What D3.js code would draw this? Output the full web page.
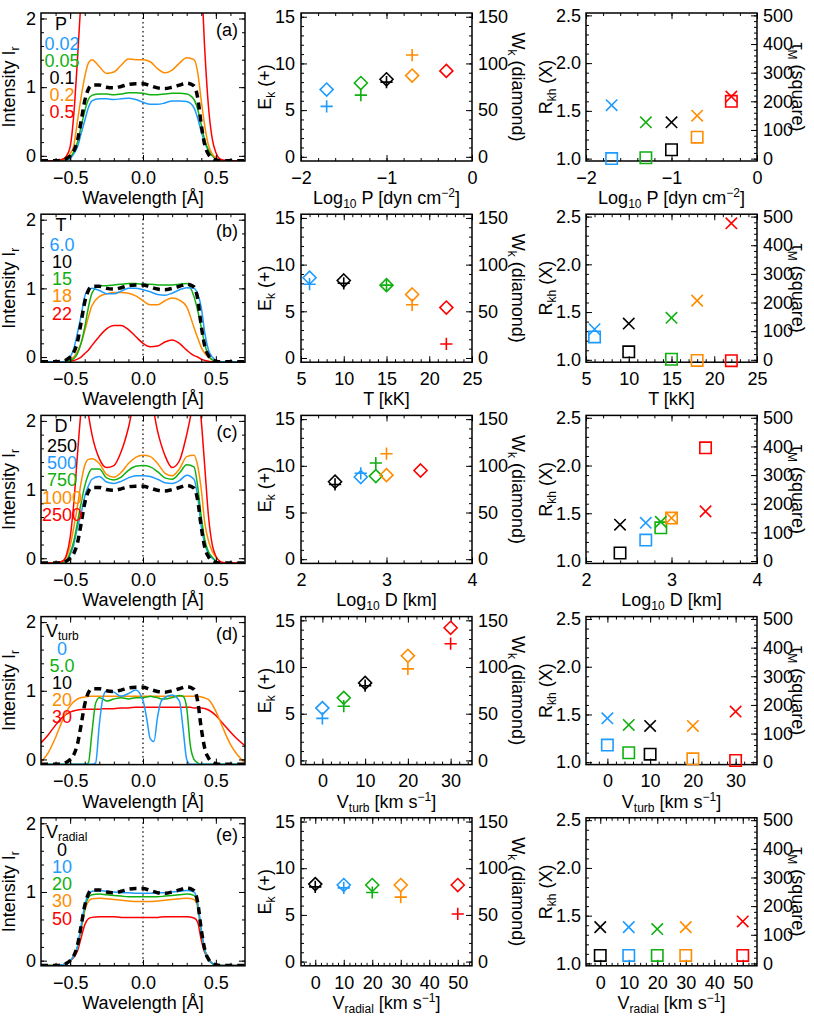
<!DOCTYPE html>
<html>
<head>
<meta charset="utf-8">
<script src="https://cdnjs.cloudflare.com/ajax/libs/d3/7.8.5/d3.min.js"></script>
<style>
body { margin: 0; background: #fff; }
text { font-family: "Liberation Sans", Arial, Helvetica, sans-serif; fill: #000; }
</style>
</head>
<body>
<script>
// colours used by the figure
var blue = "#1e9bff", green = "#10b010", orange = "#ff8c00", red = "#ff0000", black = "#000000";

// wavelength grids [A]
var waveGrid = [-0.7,-0.6,-0.55,-0.525,-0.5,-0.475,-0.45,-0.425,-0.4,-0.375,-0.35,
    -0.3,-0.25,-0.2,-0.15,-0.1,-0.05,0,0.05,0.1,0.15,0.2,0.25,0.3,
    0.35,0.375,0.4,0.425,0.45,0.475,0.5,0.525,0.55,0.6,0.7];
var waveGridD = [-0.7,-0.65,-0.6,-0.55,-0.5,-0.45,-0.4,-0.375,-0.35,-0.325,-0.3,-0.275,-0.25,
    -0.2,-0.15,-0.1,-0.05,0,0.025,0.05,0.075,0.1,0.125,0.15,0.2,0.25,0.275,0.3,0.325,
    0.35,0.375,0.4,0.45,0.5,0.55,0.6,0.65,0.7];

// reference model (black dashed), on waveGrid
var refProfile = [-0.07,-0.07,-0.06,-0.04,0.0,0.07,0.22,0.5,0.8,0.97,1.03,
    1.03,1.0,0.99,1.01,1.04,1.05,1.05,1.02,0.99,0.98,1.0,1.03,1.06,
    1.02,0.85,0.45,0.15,0.02,-0.04,-0.06,-0.07,-0.07,-0.07,-0.07];

// (a) pressure
var profP002 = [-0.07,-0.07,-0.07,-0.06,-0.04,0.03,0.13,0.32,0.51,0.7,0.8,
    0.83,0.83,0.82,0.83,0.84,0.82,0.78,0.75,0.75,0.77,0.8,0.8,0.79,
    0.7,0.55,0.35,0.18,0.08,0.01,-0.04,-0.06,-0.07,-0.07,-0.07];
var profP005 = [-0.07,-0.07,-0.06,-0.05,-0.02,0.06,0.2,0.42,0.65,0.82,0.88,
    0.9,0.9,0.89,0.9,0.92,0.92,0.91,0.89,0.89,0.9,0.91,0.91,0.9,
    0.82,0.68,0.45,0.22,0.08,0.0,-0.04,-0.06,-0.07,-0.07,-0.07];
var profP02 = [-0.07,-0.07,-0.05,-0.02,0.03,0.15,0.5,0.85,1.15,1.35,1.4,
    1.3,1.2,1.22,1.32,1.41,1.4,1.4,1.37,1.27,1.21,1.25,1.35,1.43,
    1.4,1.22,0.8,0.42,0.15,0.03,-0.03,-0.06,-0.07,-0.07,-0.07];
var profP05 = [-0.07,-0.07,-0.05,0.0,0.13,0.6,1.4,2.3,3.2,3.6,3.8,
    3.9,3.9,3.9,3.9,3.9,3.9,3.9,3.9,3.9,3.9,3.9,3.9,3.9,
    3.6,3.2,2.6,1.5,0.7,0.25,0.05,-0.04,-0.06,-0.07,-0.07];

// (b) temperature
var profT6 = [-0.07,-0.07,-0.07,-0.05,0.0,0.12,0.35,0.6,0.88,0.98,1.0,
    0.97,0.92,0.92,0.96,1.0,1.0,0.98,0.95,0.91,0.9,0.93,0.98,1.01,
    1.0,0.92,0.72,0.34,0.1,0.0,-0.05,-0.07,-0.07,-0.07,-0.07];
var profT15 = [-0.07,-0.07,-0.07,-0.07,-0.05,-0.02,0.05,0.2,0.43,0.72,0.93,
    1.04,1.04,1.05,1.06,1.07,1.07,1.06,1.06,1.05,1.05,1.05,1.06,1.07,
    0.88,0.68,0.43,0.18,0.02,-0.04,-0.06,-0.07,-0.07,-0.07,-0.07];
var profT18 = [-0.07,-0.07,-0.07,-0.06,-0.04,0.0,0.08,0.2,0.38,0.58,0.75,
    0.88,0.92,0.94,0.94,0.93,0.89,0.82,0.76,0.76,0.82,0.86,0.83,0.73,
    0.43,0.28,0.14,0.05,0.0,-0.04,-0.06,-0.07,-0.07,-0.07,-0.07];
var profT22 = [-0.07,-0.07,-0.07,-0.07,-0.06,-0.05,-0.03,0.0,0.05,0.1,0.17,
    0.3,0.41,0.46,0.46,0.4,0.3,0.2,0.15,0.16,0.22,0.25,0.2,0.1,
    0.02,0.0,-0.03,-0.05,-0.06,-0.07,-0.07,-0.07,-0.07,-0.07,-0.07];

// (c) thickness
var profD500 = [-0.07,-0.07,-0.07,-0.05,0.05,0.2,0.45,0.65,0.9,1.05,1.15,
    1.19,1.11,1.09,1.12,1.17,1.2,1.2,1.19,1.15,1.1,1.09,1.13,1.21,
    1.15,0.9,0.46,0.2,0.06,0.0,-0.04,-0.06,-0.07,-0.07,-0.07];
var profD750 = [-0.07,-0.07,-0.06,-0.03,0.08,0.25,0.52,0.8,1.05,1.22,1.3,
    1.3,1.17,1.14,1.18,1.28,1.34,1.35,1.33,1.26,1.17,1.15,1.24,1.36,
    1.33,1.05,0.6,0.26,0.09,0.02,-0.04,-0.06,-0.07,-0.07,-0.07];
var profD1000 = [-0.07,-0.07,-0.04,0.02,0.18,0.45,0.75,1.1,1.35,1.44,1.45,
    1.38,1.22,1.18,1.25,1.38,1.47,1.5,1.48,1.38,1.24,1.2,1.3,1.48,
    1.5,1.35,1.0,0.5,0.25,0.1,0.02,-0.04,-0.07,-0.07,-0.07];
var profD2500 = [-0.07,-0.07,-0.04,0.05,0.3,0.8,1.5,2.15,2.5,2.1,1.8,
    1.45,1.32,1.35,1.55,1.9,2.4,2.6,2.4,1.85,1.5,1.32,1.42,1.8,
    2.3,2.5,2.0,1.3,0.6,0.2,0.03,-0.04,-0.06,-0.07,-0.07];

// (d) turbulent velocity, on waveGridD
var profV0 = [-0.07,-0.07,-0.07,-0.07,-0.07,-0.07,-0.07,-0.07,-0.07,
    -0.05,0.5,0.9,1.0,0.98,0.92,0.96,1.01,0.86,0.6,0.3,0.26,0.62,0.85,0.9,0.94,0.85,0.45,0.0,
    -0.07,-0.07,-0.07,-0.07,-0.07,-0.07,-0.07,-0.07,-0.07,-0.07];
var profV5 = [-0.07,-0.07,-0.07,-0.07,-0.07,-0.07,-0.07,
    -0.05,0.4,0.82,0.9,0.88,0.85,0.88,0.9,0.88,0.9,0.9,0.91,0.92,0.91,0.9,0.88,0.88,0.9,0.93,0.92,0.75,0.2,0.0,-0.05,
    -0.07,-0.07,-0.07,-0.07,-0.07,-0.07,-0.07];
var profV20 = [-0.04,0.1,0.32,0.58,0.78,0.88,0.91,0.92,0.92,0.92,0.92,0.92,0.92,
    0.92,0.92,0.92,0.92,0.92,0.92,0.92,0.92,0.92,0.92,0.92,0.92,0.92,0.92,0.92,0.92,
    0.92,0.92,0.91,0.87,0.7,0.45,0.22,0.06,-0.05];
var profV30 = [0.24,0.36,0.5,0.62,0.69,0.72,0.73,0.73,0.73,0.73,0.73,0.74,0.74,
    0.74,0.75,0.75,0.76,0.76,0.76,0.76,0.76,0.76,0.76,0.76,0.76,0.76,0.76,0.76,0.76,
    0.75,0.75,0.75,0.72,0.64,0.52,0.4,0.29,0.2];

// (e) radial velocity
var profR10 = [-0.07,-0.07,-0.06,-0.04,0.0,0.07,0.2,0.5,0.8,0.96,1.01,
    1.02,1.01,1.0,0.99,0.99,0.98,0.98,0.98,0.99,0.99,1.0,1.01,1.02,
    1.0,0.85,0.45,0.15,0.02,-0.04,-0.06,-0.07,-0.07,-0.07,-0.07];
var profR20 = [-0.07,-0.07,-0.06,-0.04,0.0,0.07,0.2,0.48,0.76,0.92,0.96,
    0.97,0.96,0.95,0.94,0.93,0.93,0.93,0.93,0.93,0.94,0.95,0.96,0.97,
    0.95,0.82,0.43,0.15,0.02,-0.04,-0.06,-0.07,-0.07,-0.07,-0.07];
var profR30 = [-0.07,-0.07,-0.06,-0.04,0.0,0.07,0.19,0.45,0.72,0.86,0.9,
    0.91,0.9,0.89,0.88,0.87,0.86,0.86,0.86,0.87,0.88,0.89,0.9,0.91,
    0.89,0.78,0.41,0.14,0.02,-0.04,-0.06,-0.07,-0.07,-0.07,-0.07];
var profR50 = [-0.07,-0.07,-0.06,-0.04,0.0,0.05,0.14,0.33,0.52,0.61,0.63,
    0.64,0.64,0.64,0.63,0.63,0.63,0.63,0.63,0.63,0.64,0.64,0.64,0.64,
    0.62,0.56,0.3,0.11,0.02,-0.04,-0.06,-0.07,-0.07,-0.07,-0.07];

// legends
var legTitles = [[["P"]], [["T"]], [["D"]], [["V"],["turb","sub"]], [["V"],["radial","sub"]]];
var legLabels = [["0.02","0.05","0.1","0.2","0.5"],
                 ["6.0","10","15","18","22"],
                 ["250","500","750","1000","2500"],
                 ["0","5.0","10","20","30"],
                 ["0","10","20","30","50"]];
var legColors = [[blue,green,black,orange,red],
                 [blue,black,green,orange,red],
                 [black,blue,green,orange,red],
                 [blue,green,black,orange,red],
                 [black,blue,green,orange,red]];
var tags = ["(a)","(b)","(c)","(d)","(e)"];

// scatter columns: parameter values and the four quantities
var parP = [-1.7,-1.3,-1.0,-0.7,-0.3];
var parT = [6,10,15,18,22];
var parD = [2.398,2.699,2.875,3.0,3.398];
var parVt = [0,5,10,20,30];
var parVr = [0,10,20,30,50];

var ekP = [5.4,6.6,8.0,10.9,null],  wkP = [72,79,83,87,92];
var ekT = [7.9,8.0,7.8,5.7,1.5],    wkT = [86,83,78,68,54];
var ekD = [8.0,9.2,10.3,11.3,null], wkD = [83,88,89,90,95];
var ekVt = [4.5,5.8,8.0,9.8,12.5],  wkVt = [56,67,83,112,142];
var ekVr = [8.0,7.9,7.4,6.9,5.1],   wkVr = [83,82,82,82,82];

var rkhP = [1.56,1.38,1.38,1.45,1.65],  tauP = [0,3,31,75,200];
var rkhT = [1.32,1.38,1.44,1.62,2.43],  tauT = [80,28,2,-2,-3];
var rkhD = [1.38,1.40,1.41,1.45,1.52],  tauD = [28,73,116,150,395];
var rkhVt = [1.46,1.39,1.38,1.38,1.53], tauVt = [60,33,28,12,6];
var rkhVr = [1.38,1.38,1.36,1.38,1.44], tauVr = [28,28,28,28,28];

// x axes of columns 2 and 3
var xDomains = [[-2,0],[5,25],[2,4],[-5,35],[-5,55]];
var xTicks = [[-2,-1,0],[5,10,15,20,25],[2,3,4],[0,10,20,30],[0,10,20,30,40,50]];
var xMinors = [d3.range(-2,0.01,0.2), d3.range(5,25.1,1), d3.range(2,4.01,0.2), d3.range(-4,35,2), d3.range(-4,55,2)];
var xTitles = [[["Log"],["10","sub"],[" P [dyn cm"],["\u22122","sup"],["]"]],
               [["T [kK]"]],
               [["Log"],["10","sub"],[" D [km]"]],
               [["V"],["turb","sub"],[" [km s"],["\u22121","sup"],["]"]],
               [["V"],["radial","sub"],[" [km s"],["\u22121","sup"],["]"]]];

var rows = [
  {curves: [[profP002,blue],[profP005,green],[profP02,orange],[profP05,red]], grid: waveGrid,
   par: parP, ek: ekP, wk: wkP, rkh: rkhP, tau: tauP},
  {curves: [[profT22,red],[profT18,orange],[profT15,green],[profT6,blue]], grid: waveGrid,
   par: parT, ek: ekT, wk: wkT, rkh: rkhT, tau: tauT},
  {curves: [[profD500,blue],[profD750,green],[profD1000,orange],[profD2500,red]], grid: waveGrid,
   par: parD, ek: ekD, wk: wkD, rkh: rkhD, tau: tauD},
  {curves: [[profV30,red],[profV20,orange],[profV5,green],[profV0,blue]], grid: waveGridD,
   par: parVt, ek: ekVt, wk: wkVt, rkh: rkhVt, tau: tauVt},
  {curves: [[profR50,red],[profR30,orange],[profR20,green],[profR10,blue]], grid: waveGrid,
   par: parVr, ek: ekVr, wk: wkVr, rkh: rkhVr, tau: tauVr}
];

var W = 814, H = 1017, FS = 18;
var cols = [{x0: 41, x1: 245}, {x0: 301, x1: 472}, {x0: 586, x1: 757}];
var panelH = 148;

var svg = d3.select("body").append("svg").attr("width", W).attr("height", H);

// text with sub/superscripts
function rich(t, parts, subShift) {
    var shift = 0, sub = subShift || 4;
    parts.forEach(function(p) {
        var target = p[1] == "sub" ? sub : (p[1] == "sup" ? -7 : 0);
        var ts = t.append("tspan").text(p[0]).attr("dy", target - shift);
        if (p[1]) ts.attr("font-size", 12);
        shift = target;
    });
    return t;
}

// custom marker shapes for d3.symbol
var plusSym = {draw: function(c, s) { var r = Math.sqrt(s) / 2; c.moveTo(-r, 0); c.lineTo(r, 0); c.moveTo(0, -r); c.lineTo(0, r); }};
var crossSym = {draw: function(c, s) { var r = Math.sqrt(s) / 2; c.moveTo(-r, -r); c.lineTo(r, r); c.moveTo(-r, r); c.lineTo(r, -r); }};
var diamondSym = {draw: function(c, s) { var r = Math.sqrt(s) / 2; c.moveTo(0, -r); c.lineTo(r, 0); c.lineTo(0, r); c.lineTo(-r, 0); c.closePath(); }};
var squareSym = {draw: function(c, s) { var r = Math.sqrt(s) / 2; c.rect(-r, -r, 2 * r, 2 * r); }};

function styleAxis(g) {
    g.attr("font-size", FS).attr("font-family", null);
    g.select(".domain").remove();
    g.selectAll(".tick line").attr("stroke-width", 1);
}

// frame with inward ticks on all four sides
function drawAxes(g, x, y, o) {
    var yb = y.range()[0], yt = y.range()[1], x0 = x.range()[0], x1 = x.range()[1];
    g.append("g").attr("transform", "translate(0," + yb + ")")
        .call(d3.axisBottom(x).tickValues(o.xTicks).tickFormat(o.xFmt).tickSizeInner(-6).tickSizeOuter(0).tickPadding(10))
        .call(styleAxis);
    g.append("g").attr("transform", "translate(0," + yt + ")")
        .call(d3.axisTop(x).tickValues(o.xTicks).tickFormat("").tickSizeInner(-6).tickSizeOuter(0))
        .call(styleAxis);
    if (o.xMinor) {
        g.append("g").attr("transform", "translate(0," + yb + ")")
            .call(d3.axisBottom(x).tickValues(o.xMinor).tickFormat("").tickSizeInner(-3).tickSizeOuter(0)).call(styleAxis);
        g.append("g").attr("transform", "translate(0," + yt + ")")
            .call(d3.axisTop(x).tickValues(o.xMinor).tickFormat("").tickSizeInner(-3).tickSizeOuter(0)).call(styleAxis);
    }
    g.append("g").attr("transform", "translate(" + x0 + ",0)")
        .call(d3.axisLeft(y).tickValues(o.yTicks).tickFormat(o.yFmt).tickSizeInner(-6).tickSizeOuter(0).tickPadding(o.yPad))
        .call(styleAxis);
    g.append("g").attr("transform", "translate(" + x0 + ",0)")
        .call(d3.axisLeft(y).tickValues(o.yMinor).tickFormat("").tickSizeInner(-3).tickSizeOuter(0)).call(styleAxis);
    var y2 = o.y2 || y;
    g.append("g").attr("transform", "translate(" + x1 + ",0)")
        .call(d3.axisRight(y2).tickValues(o.y2Ticks || o.yTicks).tickFormat(o.y2 ? o.y2Fmt : "").tickSizeInner(-6).tickSizeOuter(0).tickPadding(6))
        .call(styleAxis);
    g.append("g").attr("transform", "translate(" + x1 + ",0)")
        .call(d3.axisRight(y2).tickValues(o.y2Minor || o.yMinor).tickFormat("").tickSizeInner(-3).tickSizeOuter(0)).call(styleAxis);
    g.append("rect").attr("x", x0).attr("y", yt).attr("width", x1 - x0).attr("height", yb - yt)
        .attr("fill", "none").attr("stroke", "#000").attr("stroke-width", 1.5);
}

rows.forEach(function(row, i) {
    var top = 13 + i * 201.2, bot = top + panelH;

    // ---------- column 1: line profiles ----------
    var c = cols[0];
    var x = d3.scaleLinear().domain([-0.7, 0.7]).range([c.x0, c.x1]);
    var y = d3.scaleLinear().domain([-0.075, 2.08]).range([bot, top]);
    var g = svg.append("g");
    var clipId = "clip" + i;
    svg.append("clipPath").attr("id", clipId).append("rect")
        .attr("x", c.x0).attr("y", top).attr("width", c.x1 - c.x0).attr("height", panelH);

    var plot = g.append("g").attr("clip-path", "url(#" + clipId + ")");
    plot.append("line").attr("x1", x(0)).attr("x2", x(0)).attr("y1", top).attr("y2", bot)
        .attr("stroke", "#000").attr("stroke-width", 1.2).attr("stroke-dasharray", "1.5,3");

    row.curves.forEach(function(cv) {
        var grid = row.grid;
        var line = d3.line().curve(d3.curveMonotoneX)
            .x(function(d, k) { return x(grid[k]); })
            .y(function(d) { return y(d); });
        plot.append("path").datum(cv[0]).attr("d", line)
            .attr("fill", "none").attr("stroke", cv[1]).attr("stroke-width", 1.5);
    });
    var refLine = d3.line().curve(d3.curveMonotoneX)
        .x(function(d, k) { return x(waveGrid[k]); })
        .y(function(d) { return y(d); });
    plot.append("path").datum(refProfile).attr("d", refLine)
        .attr("fill", "none").attr("stroke", "#000").attr("stroke-width", 3.5).attr("stroke-dasharray", "7,5");

    drawAxes(g, x, y, {
        xTicks: [-0.5, 0, 0.5], xFmt: d3.format(".1f"), xMinor: d3.range(-0.6, 0.61, 0.1),
        yTicks: [0, 1, 2], yFmt: d3.format("d"), yMinor: d3.range(0, 2.01, 0.2), yPad: 5
    });

    // legend
    var isV = i >= 3;
    var lt = g.append("text").attr("x", isV ? 46 : 61).attr("y", top + (isV ? 20 : 16.5))
        .attr("text-anchor", isV ? "start" : "middle").attr("font-size", FS);
    rich(lt, legTitles[i], 3);
    legLabels[i].forEach(function(s, k) {
        g.append("text").attr("x", 62).attr("y", top + (isV ? 38 : 36.5) + k * 17.2)
            .attr("text-anchor", "middle").attr("font-size", FS)
            .style("fill", legColors[i][k]).text(s);
    });
    g.append("text").attr("x", 227).attr("y", top + 23).attr("text-anchor", "middle")
        .attr("font-size", FS).text(tags[i]);

    // titles
    rich(g.append("text").attr("transform", "translate(15," + (top + panelH / 2) + ") rotate(-90)")
        .attr("text-anchor", "middle").attr("font-size", FS), [["Intensity I"], ["r", "sub"]]);
    g.append("text").attr("x", (c.x0 + c.x1) / 2).attr("y", bot + 43).attr("text-anchor", "middle")
        .attr("font-size", FS).text("Wavelength [\u00c5]");

    // ---------- column 2: E_k and W_k ----------
    c = cols[1];
    var x2 = d3.scaleLinear().domain(xDomains[i]).range([c.x0, c.x1]);
    var yE = d3.scaleLinear().domain([-0.45, 15.4]).range([bot, top]);
    var yW = d3.scaleLinear().domain([-4.5, 154]).range([bot, top]);
    var g2 = svg.append("g");
    drawAxes(g2, x2, yE, {
        xTicks: xTicks[i], xFmt: d3.format("d"), xMinor: xMinors[i],
        yTicks: [0, 5, 10, 15], yFmt: d3.format("d"), yMinor: d3.range(0, 15.1, 1), yPad: 6,
        y2: yW, y2Ticks: [0, 50, 100, 150], y2Fmt: d3.format("d"), y2Minor: d3.range(0, 151, 10)
    });
    var pts = row.par.map(function(p, k) {
        return {x: p, ek: row.ek[k], wk: row.wk[k], rkh: row.rkh[k], tau: row.tau[k], col: legColors[i][k]};
    });
    g2.selectAll(".dia").data(pts).enter().append("path")
        .attr("d", d3.symbol().type(diamondSym).size(170))
        .attr("transform", function(d) { return "translate(" + x2(d.x) + "," + yW(d.wk) + ")"; })
        .attr("fill", "none").attr("stroke", function(d) { return d.col; }).attr("stroke-width", 1.6);
    g2.selectAll(".plus").data(pts.filter(function(d) { return d.ek != null; })).enter().append("path")
        .attr("d", d3.symbol().type(plusSym).size(150))
        .attr("transform", function(d) { return "translate(" + x2(d.x) + "," + yE(d.ek) + ")"; })
        .attr("fill", "none").attr("stroke", function(d) { return d.col; }).attr("stroke-width", 1.6);

    rich(g2.append("text").attr("transform", "translate(271," + (top + panelH / 2) + ") rotate(-90)")
        .attr("text-anchor", "middle").attr("font-size", FS), [["E"], ["k", "sub"], [" (+)"]]);
    rich(g2.append("text").attr("transform", "translate(512," + (top + panelH / 2) + ") rotate(90)")
        .attr("text-anchor", "middle").attr("font-size", FS), [["W"], ["k", "sub"], [" (diamond)"]]);
    rich(g2.append("text").attr("x", (c.x0 + c.x1) / 2).attr("y", bot + 43).attr("text-anchor", "middle")
        .attr("font-size", FS), xTitles[i]);

    // ---------- column 3: R_kh and tau_M ----------
    c = cols[2];
    var x3 = d3.scaleLinear().domain(xDomains[i]).range([c.x0, c.x1]);
    var yR = d3.scaleLinear().domain([0.975, 2.525]).range([bot, top]);
    var yTau = d3.scaleLinear().domain([-8.33, 508.33]).range([bot, top]);
    var g3 = svg.append("g");
    drawAxes(g3, x3, yR, {
        xTicks: xTicks[i], xFmt: d3.format("d"), xMinor: xMinors[i],
        yTicks: [1.0, 1.5, 2.0, 2.5], yFmt: d3.format(".1f"), yMinor: d3.range(1.0, 2.51, 0.1), yPad: 5,
        y2: yTau, y2Ticks: [0, 100, 200, 300, 400, 500], y2Fmt: d3.format("d"), y2Minor: d3.range(0, 501, 20)
    });
    g3.selectAll(".sq").data(pts).enter().append("path")
        .attr("d", d3.symbol().type(squareSym).size(130))
        .attr("transform", function(d) { return "translate(" + x3(d.x) + "," + yTau(d.tau) + ")"; })
        .attr("fill", "none").attr("stroke", function(d) { return d.col; }).attr("stroke-width", 1.6);
    g3.selectAll(".cr").data(pts).enter().append("path")
        .attr("d", d3.symbol().type(crossSym).size(130))
        .attr("transform", function(d) { return "translate(" + x3(d.x) + "," + yR(d.rkh) + ")"; })
        .attr("fill", "none").attr("stroke", function(d) { return d.col; }).attr("stroke-width", 1.6);

    rich(g3.append("text").attr("transform", "translate(552," + (top + panelH / 2) + ") rotate(-90)")
        .attr("text-anchor", "middle").attr("font-size", FS), [["R"], ["kh", "sub"], [" (X)"]]);
    rich(g3.append("text").attr("transform", "translate(792," + (top + panelH / 2) + ") rotate(90)")
        .attr("text-anchor", "middle").attr("font-size", FS), [["\u03c4"], ["M", "sub"], [" (square)"]]);
    rich(g3.append("text").attr("x", (c.x0 + c.x1) / 2).attr("y", bot + 43).attr("text-anchor", "middle")
        .attr("font-size", FS), xTitles[i]);
});
</script>
</body>
</html>
